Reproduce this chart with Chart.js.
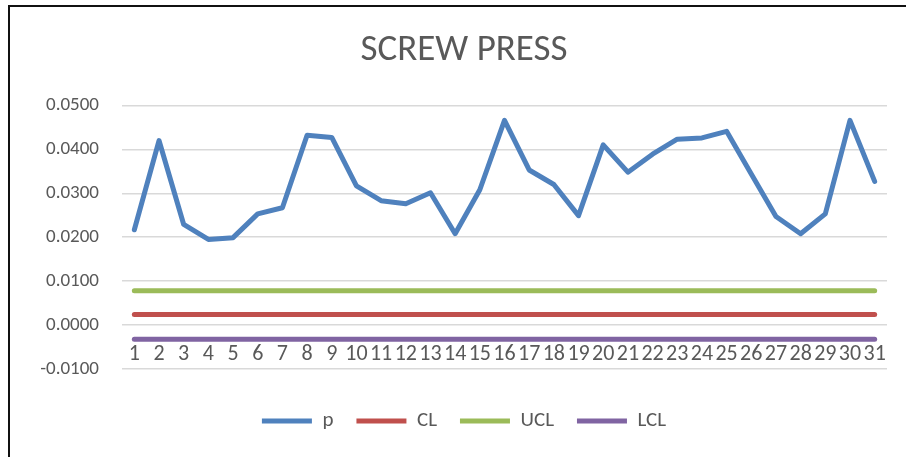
<!DOCTYPE html>
<html>
<head>
<meta charset="utf-8">
<script src="https://cdn.jsdelivr.net/npm/chart.js@4.4.1/dist/chart.umd.min.js"></script>
<style>
  html, body { margin: 0; padding: 0; background: #fff; }
  #wrap { position: relative; width: 906px; height: 457px; overflow: hidden; }
  #frame { position: absolute; left: 8px; top: 5px; width: 1000px; height: 1000px;
           border-left: 2px solid #111; border-top: 2px solid #111; pointer-events: none; }
  canvas { position: absolute; left: 0; top: 0; }
</style>
</head>
<body>
<div id="wrap">
  <canvas id="c" width="906" height="457"></canvas>
  <div id="frame"></div>
</div>
<script>
const categories = ["1","2","3","4","5","6","7","8","9","10","11","12","13","14","15","16","17","18","19","20","21","22","23","24","25","26","27","28","29","30","31"];
const pValues = [0.0217, 0.0420, 0.0229, 0.0195, 0.0199, 0.0253, 0.0267, 0.0432, 0.0427, 0.0317,
                 0.0283, 0.0276, 0.0301, 0.0208, 0.0308, 0.0466, 0.0353, 0.0320, 0.0249, 0.0410,
                 0.0348, 0.0389, 0.0423, 0.0426, 0.0441, 0.0344, 0.0247, 0.0208, 0.0253, 0.0466, 0.0327];
const clValues = [0.0024,0.0024,0.0024,0.0024,0.0024,0.0024,0.0024,0.0024,0.0024,0.0024,
                  0.0024,0.0024,0.0024,0.0024,0.0024,0.0024,0.0024,0.0024,0.0024,0.0024,
                  0.0024,0.0024,0.0024,0.0024,0.0024,0.0024,0.0024,0.0024,0.0024,0.0024,0.0024];
const uclValues = [0.0078,0.0078,0.0078,0.0078,0.0078,0.0078,0.0078,0.0078,0.0078,0.0078,
                   0.0078,0.0078,0.0078,0.0078,0.0078,0.0078,0.0078,0.0078,0.0078,0.0078,
                   0.0078,0.0078,0.0078,0.0078,0.0078,0.0078,0.0078,0.0078,0.0078,0.0078,0.0078];
const lclValues = [-0.0032,-0.0032,-0.0032,-0.0032,-0.0032,-0.0032,-0.0032,-0.0032,-0.0032,-0.0032,
                   -0.0032,-0.0032,-0.0032,-0.0032,-0.0032,-0.0032,-0.0032,-0.0032,-0.0032,-0.0032,
                   -0.0032,-0.0032,-0.0032,-0.0032,-0.0032,-0.0032,-0.0032,-0.0032,-0.0032,-0.0032,-0.0032];
const yTicks = [-0.01, 0, 0.01, 0.02, 0.03, 0.04, 0.05];
const seriesNames = ["p", "CL", "UCL", "LCL"];
const seriesColors = ["#4F81BD", "#C0504D", "#9BBB59", "#8064A2"];

const FONT = "Carlito, Calibri, 'Liberation Sans', sans-serif";
const TXT = "#595959";

function ds(i, data) {
  return {
    label: seriesNames[i], data: data,
    borderColor: seriesColors[i], backgroundColor: seriesColors[i],
    borderWidth: 5, borderCapStyle: 'round', borderJoinStyle: 'round',
    pointRadius: 0, pointHoverRadius: 0, tension: 0, fill: false
  };
}

new Chart(document.getElementById('c'), {
  type: 'line',
  data: {
    labels: categories,
    datasets: [ds(0, pValues), ds(1, clValues), ds(2, uclValues), ds(3, lclValues)]
  },
  options: {
    responsive: false, animation: false,
    layout: { padding: { left: 41, right: 19, top: 0, bottom: 15.5 } },
    plugins: {
      tooltip: { enabled: false },
      title: {
        display: true, text: 'SCREW PRESS', color: TXT,
        font: { family: FONT, size: 37, weight: 'normal', lineHeight: 1.2 },
        padding: { top: 29, bottom: 32 }
      },
      legend: {
        position: 'bottom',
        title: { display: true, text: '', font: { size: 10, lineHeight: 1 }, padding: { top: 4, bottom: 4.5 } },
        labels: {
          usePointStyle: true, pointStyle: 'line', pointStyleWidth: 50, boxWidth: 50, boxHeight: 5,
          color: TXT, padding: 23,
          font: { family: FONT, size: 21 }
        }
      }
    },
    scales: {
      x: {
        type: 'category',
        position: { y: -0.0038 },
        offset: true,
        grid: { display: false, drawTicks: false },
        border: { display: false },
        ticks: { autoSkip: false, maxRotation: 0, minRotation: 0, padding: 0,
                 color: TXT, font: { family: FONT, size: 22 } }
      },
      y: {
        min: -0.01, max: 0.05,
        afterBuildTicks: (s) => { s.ticks = yTicks.map(v => ({ value: v })); },
        afterFit: (s) => { s.width = 81; },
        grid: { color: '#D9D9D9', lineWidth: 1.5, drawTicks: false },
        border: { display: false },
        ticks: { padding: 23, color: TXT, font: { family: FONT, size: 19 },
                 callback: (v) => Number(v).toFixed(4) }
      }
    }
  }
});
</script>
</body>
</html>
